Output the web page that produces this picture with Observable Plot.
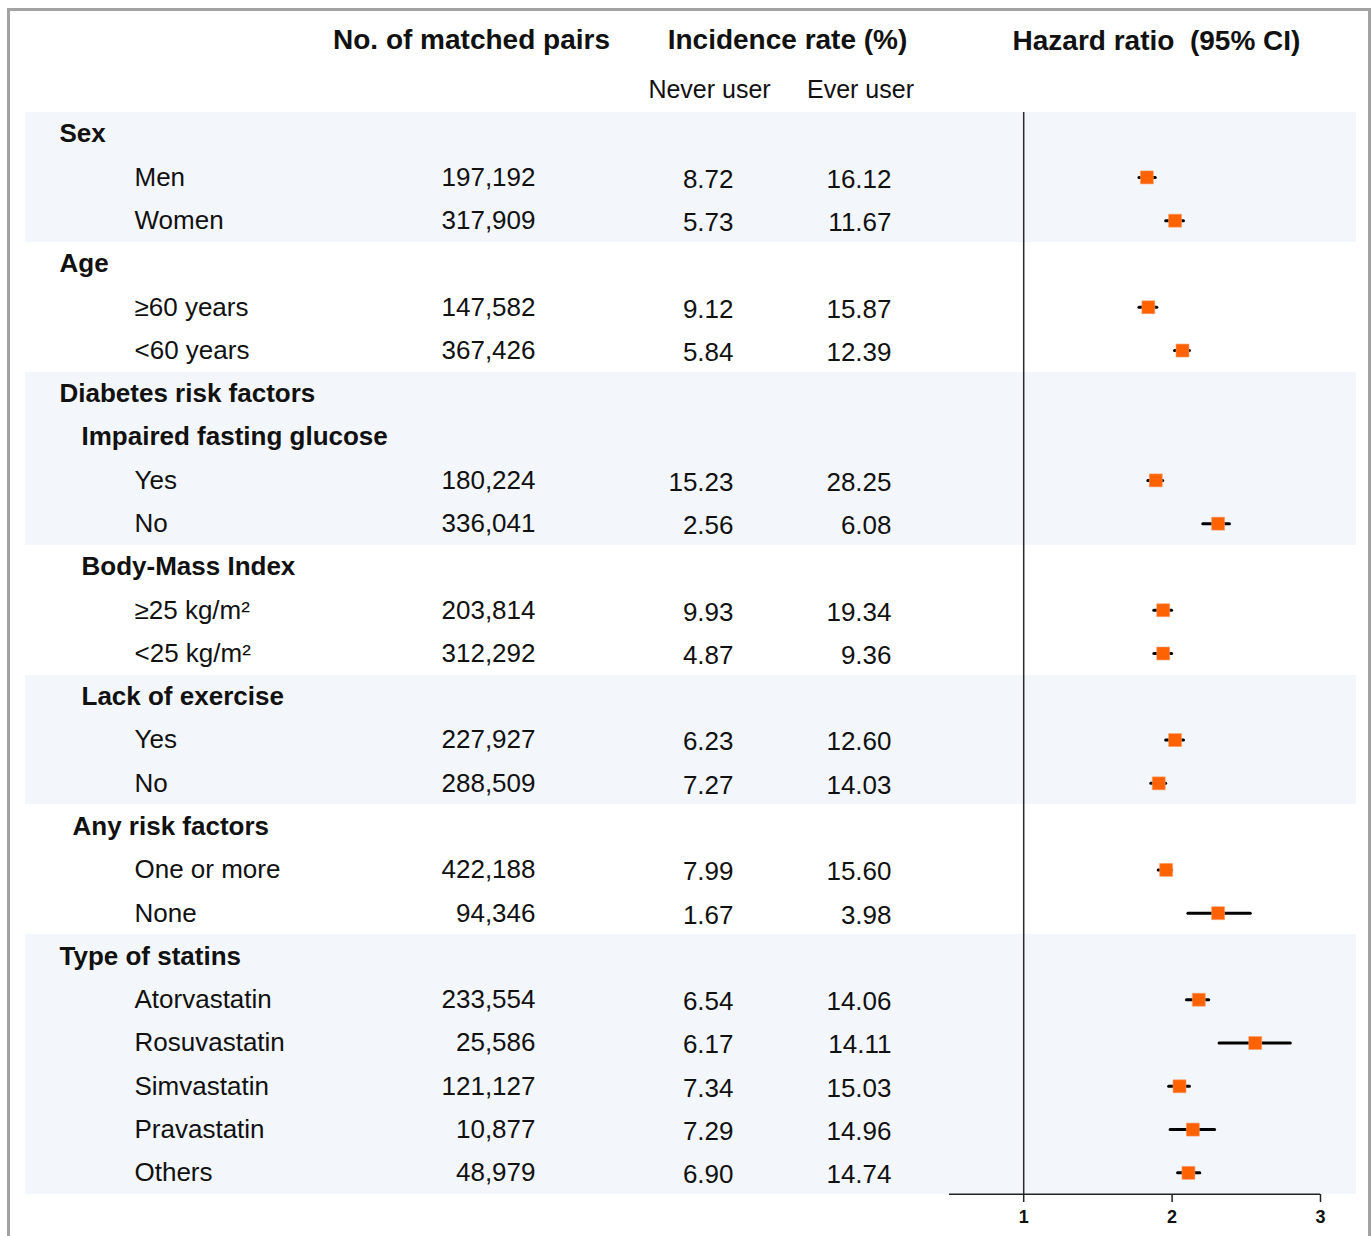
<!DOCTYPE html>
<html>
<head>
<meta charset="utf-8">
<script src="https://cdn.jsdelivr.net/npm/d3@7"></script>
<script src="https://cdn.jsdelivr.net/npm/@observablehq/plot@0.6"></script>
<style>
  html, body { margin: 0; padding: 0; background: #fff; }
  #wrap { position: relative; width: 1372px; height: 1236px; overflow: hidden; font-family: "Liberation Sans", Arial, sans-serif; }
  #wrap svg { position: absolute; left: 0; top: 0; }
  #border { position: absolute; left: 7px; top: 8px; width: 1364px; height: 1260px; box-sizing: border-box;
            border: 3px solid #a2a2a2; border-bottom: none; pointer-events: none; }
</style>
</head>
<body>
<div id="wrap"><div id="border"></div></div>
<script>
// ---- data ----
const labels = ["Sex","Men","Women","Age","≥60 years","<60 years","Diabetes risk factors",
  "Impaired fasting glucose","Yes","No","Body-Mass Index","≥25 kg/m²","<25 kg/m²",
  "Lack of exercise","Yes","No","Any risk factors","One or more","None","Type of statins",
  "Atorvastatin","Rosuvastatin","Simvastatin","Pravastatin","Others"];
const levels = ["group","item","item","group","item","item","group","sub","item","item","sub","item","item",
  "sub","item","item","any","item","item","group","item","item","item","item","item"];
const blocks = [0,0,0,1,1,1,2,2,2,2,3,3,3,4,4,4,5,5,5,6,6,6,6,6,6];
const pairs = [null,197192,317909,null,147582,367426,null,null,180224,336041,null,203814,312292,
  null,227927,288509,null,422188,94346,null,233554,25586,121127,10877,48979];
const neverUser = [null,8.72,5.73,null,9.12,5.84,null,null,15.23,2.56,null,9.93,4.87,
  null,6.23,7.27,null,7.99,1.67,null,6.54,6.17,7.34,7.29,6.90];
const everUser = [null,16.12,11.67,null,15.87,12.39,null,null,28.25,6.08,null,19.34,9.36,
  null,12.60,14.03,null,15.60,3.98,null,14.06,14.11,15.03,14.96,14.74];
const hr = [null,1.83,2.02,null,1.84,2.07,null,null,1.89,2.31,null,1.94,1.94,
  null,2.02,1.91,null,1.96,2.31,null,2.18,2.56,2.05,2.14,2.11];
const hrLo = [null,1.78,1.96,null,1.78,2.02,null,null,1.84,2.21,null,1.88,1.88,
  null,1.96,1.86,null,1.91,2.11,null,2.10,2.32,1.98,1.99,2.04];
const hrHi = [null,1.89,2.08,null,1.90,2.12,null,null,1.94,2.39,null,2.00,2.00,
  null,2.08,1.96,null,2.00,2.53,null,2.25,2.80,2.12,2.29,2.19];
const xTicks = [1, 2, 3];
const headers = ["No. of matched pairs", "Incidence rate (%)", "Hazard ratio\u00a0 (95% CI)"];
const subHeaders = ["Never user", "Ever user"];

// ---- table built from arrays ----
const rows = labels.map((label, i) => ({
  id: i, label, level: levels[i], block: blocks[i],
  pairs: pairs[i], never: neverUser[i], ever: everUser[i],
  hr: hr[i], lo: hrLo[i], hi: hrHi[i]
}));
const dataRows = rows.filter(d => d.hr != null);
const fmtInt = d3.format(",");
const fmt2 = d3.format(".2f");

const font = "Liberation Sans, Arial, sans-serif";
const textCommon = {y: "id", frameAnchor: "left", fontSize: 26, fill: "#111", fontFamily: font};
const headCommon = {text: d => d, frameAnchor: "top-left", lineAnchor: "middle", textAnchor: "middle", fill: "#111", fontFamily: font};
const lastId = rows[rows.length - 1].id;

const chart = Plot.plot({
  width: 1372,
  height: 1236,
  marginTop: 112,
  marginBottom: 42,
  marginLeft: 25,
  marginRight: 16,
  style: {fontFamily: font, background: "transparent"},
  x: {type: "linear", domain: [0.5, 3], range: [949, 1320], axis: null},
  y: {type: "band", domain: rows.map(d => d.id), padding: 0, round: false, axis: null},
  marks: [
    // shaded bands
    Plot.cell(rows.filter(d => d.block % 2 === 0), {y: "id", fill: "#f3f6fb", shapeRendering: "crispEdges"}),
    // reference line at HR = 1
    Plot.ruleX([1], {stroke: "#2a2a2a", strokeWidth: 1.5}),
    // x axis line
    Plot.ruleY([lastId], {y: d => d, x1: 0.5, x2: 3, dy: 21.3, stroke: "#222", strokeWidth: 1.5}),
    Plot.axisX(xTicks, {anchor: "bottom", tickSize: 8, tickPadding: 8, fontSize: 18, fontWeight: "bold",
      stroke: "#222", strokeWidth: 1.5, fill: "#111", tickFormat: d => d}),
    // headers
    Plot.text([headers[0]], {...headCommon, dx: 446, dy: -72, fontSize: 28, fontWeight: "bold"}),
    Plot.text([headers[1]], {...headCommon, dx: 762, dy: -72, fontSize: 28, fontWeight: "bold"}),
    Plot.text([headers[2]], {...headCommon, dx: 1131, dy: -71, fontSize: 28, fontWeight: "bold"}),
    Plot.text([subHeaders[0]], {...headCommon, dx: 684, dy: -23, fontSize: 25}),
    Plot.text([subHeaders[1]], {...headCommon, dx: 835, dy: -23, fontSize: 25}),
    // row labels by level
    Plot.text(rows.filter(d => d.level === "group"), {...textCommon, text: "label", textAnchor: "start", dx: 34, fontWeight: "bold"}),
    Plot.text(rows.filter(d => d.level === "sub"), {...textCommon, text: "label", textAnchor: "start", dx: 56, fontWeight: "bold"}),
    Plot.text(rows.filter(d => d.level === "any"), {...textCommon, text: "label", textAnchor: "start", dx: 47, fontWeight: "bold"}),
    Plot.text(rows.filter(d => d.level === "item"), {...textCommon, text: "label", textAnchor: "start", dx: 109}),
    // numeric columns
    Plot.text(dataRows, {...textCommon, text: d => fmtInt(d.pairs), textAnchor: "end", dx: 510}),
    Plot.text(dataRows, {...textCommon, text: d => fmt2(d.never), textAnchor: "end", dx: 708, dy: 2}),
    Plot.text(dataRows, {...textCommon, text: d => fmt2(d.ever), textAnchor: "end", dx: 866, dy: 2}),
    // CI lines and point estimates
    Plot.ruleY(dataRows, {y: "id", x1: "lo", x2: "hi", stroke: "#000", strokeWidth: 3, strokeLinecap: "round"}),
    Plot.dot(dataRows, {x: "hr", y: "id", symbol: "square", r: 7.3, fill: "#ff6200", stroke: "#ff9a66", strokeWidth: 0.6})
  ]
});
document.getElementById("wrap").prepend(chart);
</script>
</body>
</html>
